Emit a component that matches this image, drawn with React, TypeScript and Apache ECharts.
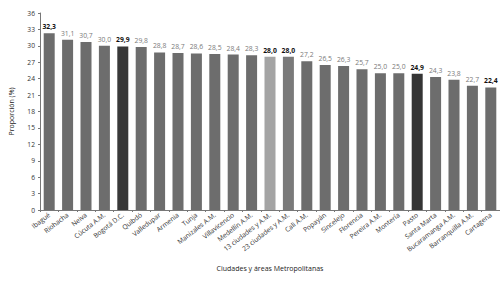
import React, { useEffect, useRef } from "react";
import * as echarts from "echarts";

const categories = [
  "Ibagué", "Riohacha", "Neiva", "Cúcuta A.M.", "Bogotá D.C.", "Quibdó", "Valledupar",
  "Armenia", "Tunja", "Manizales A.M.", "Villavicencio", "Medellín A.M.",
  "13 ciudades y A.M.", "23 ciudades y A.M.", "Cali A.M.", "Popayán", "Sincelejo",
  "Florencia", "Pereira A.M.", "Montería", "Pasto", "Santa Marta",
  "Bucaramanga A.M.", "Barranquilla A.M.", "Cartagena",
];
const values = [
  32.3, 31.1, 30.7, 30.0, 29.9, 29.8, 28.8, 28.7, 28.6, 28.5, 28.4, 28.3,
  28.0, 28.0, 27.2, 26.5, 26.3, 25.7, 25.0, 25.0, 24.9, 24.3, 23.8, 22.7, 22.4,
];
const highlightedLabels = ["Ibagué", "Bogotá D.C.", "13 ciudades y A.M.", "23 ciudades y A.M.", "Pasto", "Cartagena"];
const barColors: Record<string, string> = {
  "Bogotá D.C.": "#383838",
  "Pasto": "#353535",
  "13 ciudades y A.M.": "#a4a4a4",
  "23 ciudades y A.M.": "#7a7a7a",
};
const yTicks = { min: 0, max: 36, interval: 3 };

export default function App() {
  const ref = useRef<HTMLDivElement>(null);
  useEffect(() => {
    if (!ref.current) return;
    const chart = echarts.init(ref.current, null, { renderer: "svg" });
    const font = "Open Sans";
    chart.setOption({
      animation: false,
      textStyle: { fontFamily: font },
      grid: { left: 38, right: 0, top: 13, bottom: 71, containLabel: false },
      xAxis: {
        type: "category",
        data: categories,
        name: "Ciudades y áreas Metropolitanas",
        nameLocation: "middle",
        nameGap: 55,
        nameTextStyle: { fontSize: 7, color: "#222", fontFamily: font },
        axisLine: { lineStyle: { color: "#777", width: 1 } },
        axisTick: { show: true, length: 2, lineStyle: { color: "#777" } },
        axisLabel: { rotate: 38, fontSize: 6.7, color: "#333", margin: 4, interval: 0, fontFamily: font },
      },
      yAxis: {
        type: "value",
        min: yTicks.min,
        max: yTicks.max,
        interval: yTicks.interval,
        name: "Proporción (%)",
        nameLocation: "middle",
        nameGap: 25,
        nameTextStyle: { fontSize: 7, color: "#222", fontFamily: font },
        splitLine: { show: false },
        axisLine: { show: true, lineStyle: { color: "#777", width: 1 } },
        axisTick: { show: true, length: 2, lineStyle: { color: "#777" } },
        axisLabel: { fontSize: 6.7, color: "#333", margin: 5, fontFamily: font },
      },
      series: [
        {
          type: "bar",
          barWidth: 11,
          data: values.map((v, i) => {
            const c = categories[i];
            const hl = highlightedLabels.includes(c);
            return {
              value: v,
              itemStyle: { color: barColors[c] || "#6d6d6d" },
              label: {
                show: true,
                position: "top",
                distance: 3,
                formatter: v.toFixed(1).replace(".", ","),
                fontSize: 6.8,
                fontFamily: font,
                fontWeight: hl ? "bold" : "normal",
                color: hl ? "#111" : "#7a7a7a",
              },
            };
          }),
        },
      ],
    });
    return () => chart.dispose();
  }, []);
  return <div ref={ref} style={{ width: 500, height: 281, position: "absolute", left: 0, top: 0, background: "#fff" }} />;
}
